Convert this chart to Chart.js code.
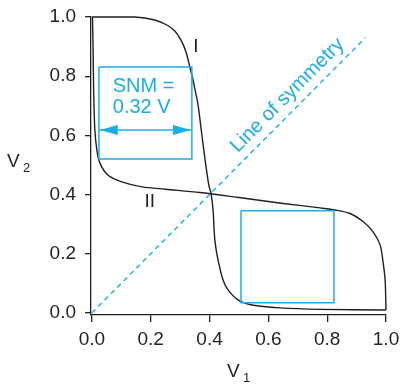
<!DOCTYPE html>
<html>
<head>
<meta charset="utf-8">
<script src="https://cdn.jsdelivr.net/npm/chart.js@4.4.1/dist/chart.umd.min.js"></script>
<style>
  html, body { margin: 0; padding: 0; background: #fff; }
  #wrap { width: 400px; height: 386px; }
</style>
</head>
<body>
<div id="wrap"><canvas id="snmChart" width="400" height="386"></canvas></div>
<script>
// butterfly curve data
const curveIV1 = [0.0, 0.146, 0.214, 0.255, 0.282, 0.303, 0.32, 0.333, 0.344, 0.352, 0.361, 0.371, 0.384, 0.398, 0.405, 0.412, 0.418, 0.429, 0.446, 0.463, 0.497, 0.544, 0.639, 0.776, 1.0];
const curveIV2 = [1.0, 1.0, 0.99, 0.973, 0.953, 0.922, 0.882, 0.831, 0.787, 0.748, 0.703, 0.625, 0.524, 0.429, 0.405, 0.348, 0.247, 0.179, 0.111, 0.078, 0.044, 0.027, 0.017, 0.012, 0.01];
const curveIIV1 = [0.002, 0.004, 0.006, 0.01, 0.017, 0.027, 0.054, 0.102, 0.17, 0.25, 0.367, 0.5, 0.65, 0.776, 0.827, 0.878, 0.922, 0.956, 0.98, 0.99, 0.997, 1.0];
const curveIIV2 = [1.0, 0.9, 0.75, 0.62, 0.55, 0.507, 0.466, 0.443, 0.426, 0.418, 0.407, 0.39, 0.37, 0.355, 0.348, 0.336, 0.309, 0.274, 0.23, 0.172, 0.111, 0.01];

// noise margin squares
const box1V1 = [0.024, 0.34, 0.34, 0.024, 0.024];
const box1V2 = [0.831, 0.831, 0.52, 0.52, 0.831];
const box2V1 = [0.507, 0.823, 0.823, 0.507, 0.507];
const box2V2 = [0.345, 0.345, 0.034, 0.034, 0.345];

const symV1 = [0.0, 0.93];
const symV2 = [0.0, 0.93];
const arrowV1 = [0.027, 0.337];
const arrowV2 = [0.618, 0.618];

const xTicks = [0.0, 0.2, 0.4, 0.6, 0.8, 1.0];
const yTicks = [0.0, 0.2, 0.4, 0.6, 0.8, 1.0];

const dark = "#231f20";
const blue = "#1aaee8";
const fontFam = "'Liberation Sans', Arial, sans-serif";

function pts(xs, ys) {
    return xs.map((x, i) => ({ x: x, y: ys[i] }));
}

const labelsPlugin = {
    id: "labels",
    afterDatasetsDraw(chart) {
        const c = chart.ctx;
        const sx = chart.scales.x, sy = chart.scales.y;
        const px = (v) => sx.getPixelForValue(v);
        const py = (v) => sy.getPixelForValue(v);
        c.save();

        // arrow heads
        c.fillStyle = blue;
        const ay = py(arrowV2[0]);
        const l = px(arrowV1[0]), r = px(arrowV1[1]);
        c.beginPath();
        c.moveTo(l, ay); c.lineTo(l + 18, ay - 5); c.lineTo(l + 18, ay + 5); c.closePath();
        c.fill();
        c.beginPath();
        c.moveTo(r, ay); c.lineTo(r - 18, ay - 5); c.lineTo(r - 18, ay + 5); c.closePath();
        c.fill();

        // SNM text
        c.font = "20px " + fontFam;
        c.textAlign = "left";
        c.textBaseline = "alphabetic";
        c.fillText("SNM =", px(0.071), py(0.747));
        c.fillText("0.32 V", px(0.071), py(0.676));

        // line of symmetry label
        c.save();
        c.translate(px(0.665), py(0.735));
        const ang = Math.atan2(py(1) - py(0), px(1) - px(0));
        c.rotate(ang);
        c.font = "20px " + fontFam;
        c.textAlign = "center";
        c.textBaseline = "middle";
        c.fillText("Line of symmetry", 0, 0);
        c.restore();

        // curve labels
        c.fillStyle = dark;
        c.font = "19px " + fontFam;
        c.textAlign = "center";
        c.textBaseline = "middle";
        c.fillText("I", px(0.354), py(0.9));
        c.fillText("II", px(0.197), py(0.375));

        // axis titles with subscripts
        c.textAlign = "left";
        c.textBaseline = "alphabetic";
        c.font = "19px " + fontFam;
        c.fillText("V", 7, 167);
        c.fillText("V", 227, 377);
        c.font = "13px " + fontFam;
        c.fillText("2", 23, 172);
        c.fillText("1", 243, 382);
        c.restore();
    }
};

const lineDs = (data, color, width, extra) => Object.assign({
    data: data,
    showLine: true,
    borderColor: color,
    backgroundColor: color,
    borderWidth: width,
    pointRadius: 0,
    fill: false,
}, extra || {});

new Chart(document.getElementById("snmChart").getContext("2d"), {
    type: "scatter",
    data: {
        datasets: [
            lineDs(pts(symV1, symV2), blue, 1.4, { borderDash: [5, 4] }),
            lineDs(pts(box1V1, box1V2), blue, 1.5),
            lineDs(pts(box2V1, box2V2), blue, 1.5),
            lineDs(pts(arrowV1, arrowV2), blue, 1.5),
            lineDs(pts(curveIV1, curveIV2), dark, 1.4, { tension: 0.3 }),
            lineDs(pts(curveIIV1, curveIIV2), dark, 1.4, { tension: 0.3 }),
        ],
    },
    options: {
        responsive: false,
        devicePixelRatio: 1,
        animation: false,
        clip: false,
        layout: { padding: { top: 17, right: 14, left: 0, bottom: 0 } },
        plugins: {
            legend: { display: false },
            tooltip: { enabled: false },
        },
        scales: {
            x: {
                type: "linear",
                min: -0.003,
                max: 1.0,
                afterBuildTicks: (s) => { s.ticks = xTicks.map((v) => ({ value: v })); },
                afterFit: (s) => { s.height = 71; s.paddingLeft = 0; s.paddingRight = 0; },
                border: { display: true, color: dark, width: 1.3 },
                grid: { drawOnChartArea: false, drawTicks: true, tickLength: 7, color: dark, lineWidth: 1.3 },
                ticks: {
                    color: dark,
                    font: { size: 19, family: fontFam },
                    padding: 6,
                    maxRotation: 0,
                    callback: (v) => v.toFixed(1),
                },
            },
            y: {
                type: "linear",
                min: -0.007,
                max: 1.0,
                afterBuildTicks: (s) => { s.ticks = yTicks.map((v) => ({ value: v })); },
                afterFit: (s) => { s.width = 91; s.paddingTop = 0; s.paddingBottom = 0; },
                border: { display: true, color: dark, width: 1.3 },
                grid: { drawOnChartArea: false, drawTicks: true, tickLength: 6, color: dark, lineWidth: 1.3 },
                ticks: {
                    color: dark,
                    font: { size: 19, family: fontFam },
                    padding: 9,
                    callback: (v) => v.toFixed(1),
                },
            },
        },
    },
    plugins: [labelsPlugin],
});
</script>
</body>
</html>
